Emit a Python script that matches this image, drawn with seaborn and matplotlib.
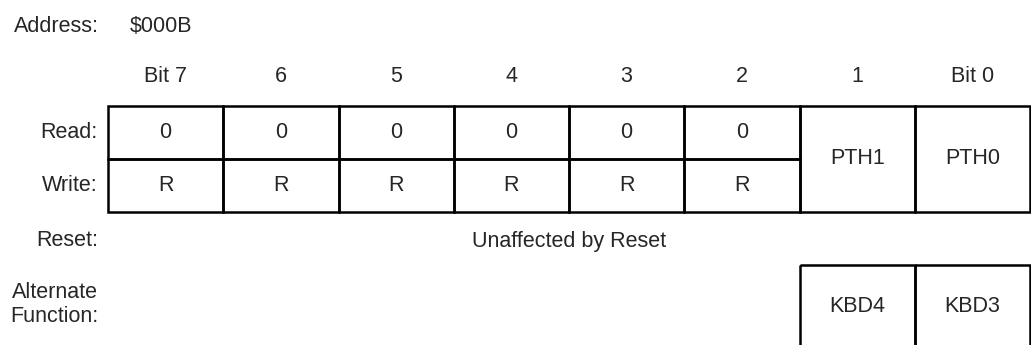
import matplotlib
matplotlib.use("Agg")
import matplotlib.pyplot as plt
import matplotlib.patches as patches
import seaborn as sns

# register data
address = "$000B"
bit_labels = ["Bit 7", "6", "5", "4", "3", "2", "1", "Bit 0"]
read_vals = ["0", "0", "0", "0", "0", "0"]
write_vals = ["R", "R", "R", "R", "R", "R"]
merged_vals = ["PTH1", "PTH0"]
reset_text = "Unaffected by Reset"
alt_vals = ["KBD4", "KBD3"]

sns.set_theme(style="white")
plt.rcParams['font.family'] = ['Liberation Sans', 'DejaVu Sans']

fig = plt.figure(figsize=(10.31, 3.45), dpi=100)
ax = fig.add_axes([0, 0, 1, 1])
ax.set_xlim(0, 1031)
ax.set_ylim(345, 0)
ax.axis('off')

x0, colw = 108, 115.25
row_top, row_mid, row_bot = 106, 159, 212
alt_top, alt_bot = 265, 360
lw = 1.8
fs = 15.5
label_x = 98

def cell(x, y, w, h):
    ax.add_patch(patches.Rectangle((x, y), w, h, fill=False, edgecolor='black', linewidth=lw))

ax.text(14, 26, "Address:", fontsize=fs, va='center', ha='left')
ax.text(130, 26, address, fontsize=fs, va='center', ha='left')

for i, b in enumerate(bit_labels):
    ax.text(x0 + (i + 0.5) * colw, 77, b, fontsize=fs, ha='center', va='center')

ax.text(label_x, (row_top + row_mid) / 2, "Read:", fontsize=fs, ha='right', va='center')
ax.text(label_x, (row_mid + row_bot) / 2, "Write:", fontsize=fs, ha='right', va='center')

for i, (r, w) in enumerate(zip(read_vals, write_vals)):
    x = x0 + i * colw
    cell(x, row_top, colw, row_mid - row_top)
    cell(x, row_mid, colw, row_bot - row_mid)
    ax.text(x + colw / 2, (row_top + row_mid) / 2, r, fontsize=fs, ha='center', va='center')
    ax.text(x + colw / 2, (row_mid + row_bot) / 2, w, fontsize=fs, ha='center', va='center')

for j, m in enumerate(merged_vals):
    x = x0 + (len(read_vals) + j) * colw
    cell(x, row_top, colw, row_bot - row_top)
    ax.text(x + colw / 2, (row_top + row_bot) / 2, m, fontsize=fs, ha='center', va='center')

ax.text(label_x, 241, "Reset:", fontsize=fs, ha='right', va='center')
ax.text(x0 + 4 * colw, 241, reset_text, fontsize=fs, ha='center', va='center')

ax.text(label_x, 292, "Alternate", fontsize=fs, ha='right', va='center')
ax.text(label_x, 316, "Function:", fontsize=fs, ha='right', va='center')

for j, a in enumerate(alt_vals):
    x = x0 + (len(bit_labels) - len(alt_vals) + j) * colw
    cell(x, alt_top, colw, alt_bot - alt_top)
    ax.text(x + colw / 2, 306, a, fontsize=fs, ha='center', va='center')

fig.savefig("out.png", dpi=100)
